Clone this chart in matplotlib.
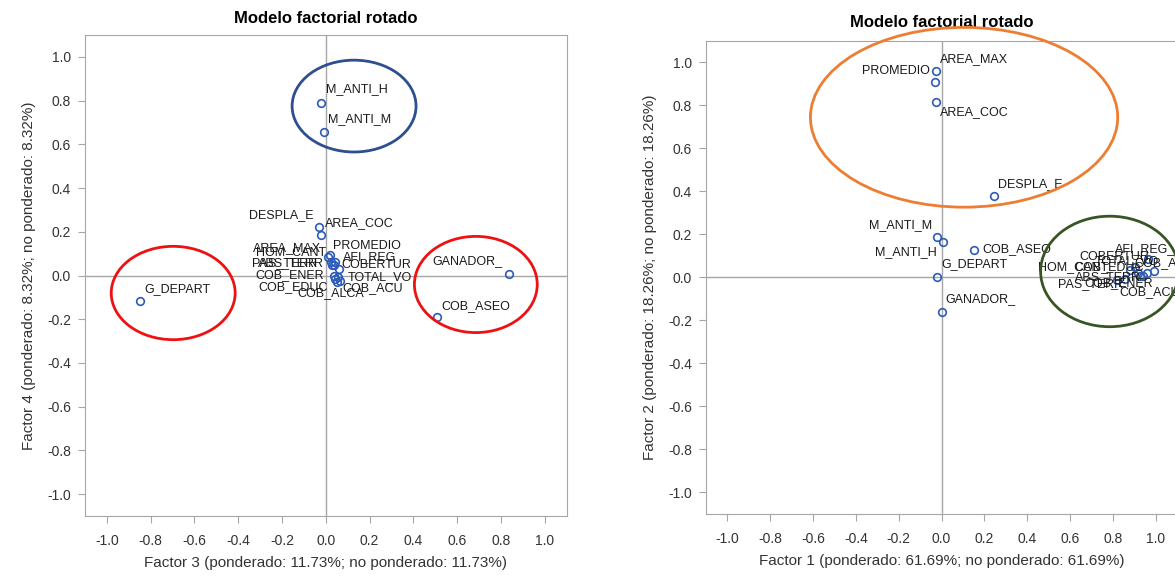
import matplotlib.pyplot as plt
from matplotlib.patches import Ellipse

plt.rcParams['font.family'] = ['Liberation Sans', 'DejaVu Sans']

# Cargas rotadas: Factor 3 vs Factor 4
vars_34 = ["M_ANTI_H", "M_ANTI_M", "DESPLA_E", "AREA_COC", "G_DEPART", "GANADOR_",
           "COB_ASEO", "AREA_MAX", "PROMEDIO", "HOM_CANT", "AFI_REG", "PAS_TERR",
           "ABS_TERR", "COBERTUR", "COB_ENER", "TOTAL_VO", "COB_EDUC", "COB_ALCA", "COB_ACU"]
f3 = [-0.023, -0.010, -0.030, -0.020, -0.850, 0.837, 0.506, 0.010, 0.018, 0.023, 0.041,
      0.028, 0.037, 0.060, 0.037, 0.055, 0.041, 0.050, 0.064]
f4 = [0.790, 0.656, 0.220, 0.185, -0.115, 0.005, -0.190, 0.083, 0.096, 0.064, 0.064,
      0.046, 0.046, 0.032, 0.000, -0.009, -0.018, -0.028, -0.023]

# Cargas rotadas: Factor 1 vs Factor 2
vars_12 = ["AREA_MAX", "PROMEDIO", "AREA_COC", "DESPLA_E", "M_ANTI_M", "M_ANTI_H",
           "COB_ASEO", "G_DEPART", "GANADOR_", "AFI_REG_", "COB_ALCA", "COB_ACU",
           "HOM_CANT", "COBERTUR", "COB_EDUC", "PAS_TERR", "ABS_TERR", "COB_ENER", "TOTAL_VO"]
f1 = [-0.028, -0.033, -0.028, 0.243, -0.023, 0.005, 0.150, -0.023, 0.000, 0.963, 0.991,
      0.925, 0.879, 0.902, 0.916, 0.818, 0.855, 0.939, 0.958]
f2 = [0.958, 0.911, 0.818, 0.379, 0.187, 0.164, 0.126, 0.000, -0.159, 0.084, 0.028,
      0.005, 0.037, 0.047, 0.023, -0.014, -0.005, 0.009, 0.023]

ticks = [-1.0, -0.8, -0.6, -0.4, -0.2, 0.0, 0.2, 0.4, 0.6, 0.8, 1.0]

# desplazamiento de etiquetas en pixeles (dx, dy, alineacion)
offs_34 = {
    "M_ANTI_H": (5, 14, "left"), "M_ANTI_M": (4, 13, "left"), "DESPLA_E": (-6, 12, "right"),
    "AREA_COC": (4, 12, "left"), "G_DEPART": (5, 12, "left"), "GANADOR_": (-7, 13, "right"),
    "COB_ASEO": (5, 11, "left"), "AREA_MAX": (-7, 9, "right"), "PROMEDIO": (3, 9, "left"),
    "HOM_CANT": (-5, 9, "right"), "AFI_REG": (8, 4, "left"), "PAS_TERR": (-15, 2, "right"),
    "ABS_TERR": (-10, 2, "right"), "COBERTUR": (2, 4, "left"), "COB_ENER": (-10, 0, "right"),
    "TOTAL_VO": (10, 0, "left"), "COB_EDUC": (-7, -8, "right"), "COB_ALCA": (-6, -11, "center"),
    "COB_ACU": (3, -8, "left"),
}
offs_12 = {
    "AREA_MAX": (4, 12, "left"), "PROMEDIO": (-5, 11, "right"), "AREA_COC": (4, -10, "left"),
    "DESPLA_E": (4, 12, "left"), "M_ANTI_M": (-5, 12, "right"), "M_ANTI_H": (-6, -10, "right"),
    "COB_ASEO": (9, 1, "left"), "G_DEPART": (5, 13, "left"), "GANADOR_": (4, 13, "left"),
    "AFI_REG_": (-3, 10, "center"), "COB_ALCA": (-19, 8, "left"), "COB_ACU": (-20, -16, "left"),
    "HOM_CANT": (-22, 2, "right"), "COBERTUR": (-55, 10, "left"), "COB_EDUC": (-63, 5, "left"),
    "PAS_TERR": (-59, -4, "left"), "ABS_TERR": (-50, 1, "left"), "COB_ENER": (-58, -8, "left"),
    "TOTAL_VO": (-52, 11, "left"),
}

GRAY = "#a6a6a6"
PT_COLOR = "#2c5bb8"


def loading_plot(ax, names, xs, ys, offs, xlabel, ylabel, title_pad):
    ax.set_xlim(-1.1, 1.1)
    ax.set_ylim(-1.1, 1.1)
    ax.axhline(0, color=GRAY, lw=1, zorder=1)
    ax.axvline(0, color=GRAY, lw=1, zorder=1)
    ax.plot(xs, ys, 'o', ms=5.5, mfc='none', mec=PT_COLOR, mew=1.2, zorder=3)
    for n, x, y in zip(names, xs, ys):
        dx, dy, ha = offs[n]
        ax.annotate(n, (x, y), xytext=(dx * 0.72, dy * 0.72), textcoords='offset points',
                    ha=ha, va='center', fontsize=9, color='#1a1a1a', zorder=4)
    ax.set_xticks(ticks)
    ax.set_yticks(ticks)
    ax.set_xticklabels([f"{t:.1f}" for t in ticks])
    ax.set_yticklabels([f"{t:.1f}" for t in ticks])
    ax.tick_params(direction='out', length=5, color=GRAY, labelsize=10,
                   labelcolor='#333333')
    ax.tick_params(axis='x', pad=8)
    ax.tick_params(axis='y', pad=5)
    for s in ax.spines.values():
        s.set_color(GRAY)
    ax.set_xlabel(xlabel, fontsize=11, color='#333333', labelpad=6)
    ax.set_ylabel(ylabel, fontsize=11, color='#333333', labelpad=8)
    ax.set_title("Modelo factorial rotado", fontsize=12, fontweight='bold', pad=title_pad)


fig = plt.figure(figsize=(11.75, 5.77), dpi=100)
ax1 = fig.add_axes([0.0723, 0.1057, 0.410, 0.8336])
ax2 = fig.add_axes([0.6009, 0.1092, 0.4009, 0.8198])

loading_plot(ax1, vars_34, f3, f4, offs_34,
             "Factor 3 (ponderado: 11.73%; no ponderado: 11.73%)",
             "Factor 4 (ponderado: 8.32%; no ponderado: 8.32%)", 9)
loading_plot(ax2, vars_12, f1, f2, offs_12,
             "Factor 1 (ponderado: 61.69%; no ponderado: 61.69%)",
             "Factor 2 (ponderado: 18.26%; no ponderado: 18.26%)", 10)

# grupos resaltados
ax1.add_patch(Ellipse((0.129, 0.775), 0.566, 0.42, fill=False, ec='#2e4f8f', lw=2, zorder=5))
ax1.add_patch(Ellipse((-0.697, -0.08), 0.566, 0.427, fill=False, ec='#ee1111', lw=2, zorder=5))
ax1.add_patch(Ellipse((0.685, -0.041), 0.561, 0.44, fill=False, ec='#ee1111', lw=2, zorder=5))
ax2.add_patch(Ellipse((0.105, 0.745), 1.435, 0.836, fill=False, ec='#ed7d31', lw=2,
                      zorder=5, clip_on=False))
ax2.add_patch(Ellipse((0.785, 0.028), 0.645, 0.514, fill=False, ec='#375623', lw=2,
                      zorder=5, clip_on=False))

fig.savefig("out.png", dpi=100)
